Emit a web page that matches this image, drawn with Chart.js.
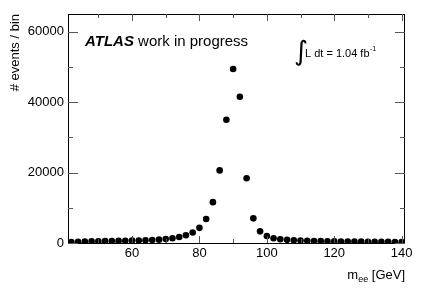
<!DOCTYPE html>
<html>
<head>
<meta charset="utf-8">
<script src="https://cdn.jsdelivr.net/npm/chart.js@4/dist/chart.umd.min.js"></script>
<style>
  html, body { margin: 0; padding: 0; background: #fff; }
  #wrap { width: 427px; height: 290px; }
</style>
</head>
<body>
<div id="wrap"><canvas id="c" width="427" height="290"></canvas></div>
<script>
// ---- data ----
const massBins = [42,44,46,48,50,52,54,56,58,60,62,64,66,68,70,72,74,76,78,80,82,84,86,88,90,92,94,96,98,100,102,104,106,108,110,112,114,116,118,120,122,124,126,128,130,132,134,136,138,140];
const eventCounts = [300,350,400,450,500,520,560,600,640,680,720,780,850,950,1100,1350,1700,2200,3000,4300,6800,11600,20600,35000,49400,41500,18400,7000,3300,2000,1350,1050,900,780,700,620,570,530,500,470,440,420,400,380,360,340,330,320,300,290];
const xMajorTicks = [60,80,100,120,140];
const xMinorTicks = [50,70,90,110,130];
const yMajorTicks = [0,20000,40000,60000];
const yMinorTicks = [10000,30000,50000];

const FONT = "'Liberation Sans', Arial, Helvetica, sans-serif";

const framePlugin = {
  id: 'frame',
  afterDraw(chart) {
    const {ctx, chartArea: a, scales: {x, y}} = chart;
    ctx.save();
    ctx.strokeStyle = '#000';
    ctx.lineWidth = 1;
    ctx.strokeRect(Math.round(a.left) + 0.5, Math.round(a.top) + 0.5,
                   Math.round(a.right - a.left) - 1, Math.round(a.bottom - a.top));
    ctx.strokeStyle = '#555';
    const tick = (x1, y1, x2, y2) => { ctx.beginPath(); ctx.moveTo(x1, y1); ctx.lineTo(x2, y2); ctx.stroke(); };
    xMajorTicks.forEach(v => { const px = Math.round(x.getPixelForValue(v)) + 0.5;
      tick(px, a.bottom, px, a.bottom - 7); tick(px, a.top, px, a.top + 7); });
    xMinorTicks.forEach(v => { const px = Math.round(x.getPixelForValue(v)) + 0.5;
      tick(px, a.bottom, px, a.bottom - 4); tick(px, a.top, px, a.top + 4); });
    yMajorTicks.forEach(v => { const py = Math.round(y.getPixelForValue(v)) + 0.5;
      tick(a.left, py, a.left + 10, py); tick(a.right, py, a.right - 10, py); });
    yMinorTicks.forEach(v => { const py = Math.round(y.getPixelForValue(v)) + 0.5;
      tick(a.left, py, a.left + 5, py); tick(a.right, py, a.right - 5, py); });

    // ATLAS label
    ctx.fillStyle = '#000';
    ctx.textBaseline = 'alphabetic';
    ctx.textAlign = 'left';
    ctx.font = "italic bold 15px " + FONT;
    ctx.fillText('ATLAS', 85, 46);
    const w = ctx.measureText('ATLAS ').width;
    ctx.font = "15px " + FONT;
    ctx.fillText('work in progress', 85 + w, 46);

    // luminosity
    ctx.font = "27px 'DejaVu Sans', sans-serif";
    ctx.fillText('\u222B', 294, 60);
    ctx.font = "11px " + FONT;
    const lum = 'L dt = 1.04 fb';
    ctx.fillText(lum, 305, 57);
    const lw = ctx.measureText(lum).width;
    ctx.font = "7px " + FONT;
    ctx.fillText('-1', 305 + lw + 0.5, 51);

    // x title with subscript
    ctx.font = "13px " + FONT;
    const t2 = ' [GeV]';
    const w2 = ctx.measureText(t2).width;
    ctx.font = "9px " + FONT;
    const wsub = ctx.measureText('ee').width;
    ctx.font = "13px " + FONT;
    const wm = ctx.measureText('m').width;
    const right = 405;
    let xs = right - w2 - wsub - wm;
    ctx.fillText('m', xs, 279);
    ctx.font = "9px " + FONT;
    ctx.fillText('ee', xs + wm, 282);
    ctx.font = "13px " + FONT;
    ctx.fillText(t2, xs + wm + wsub, 279);
    ctx.restore();
  }
};

new Chart(document.getElementById('c'), {
  type: 'scatter',
  data: {
    datasets: [{
      data: massBins.map((m, i) => ({x: m, y: eventCounts[i]})),
      pointRadius: 3.3,
      pointBackgroundColor: '#000',
      pointBorderColor: '#000',
      pointBorderWidth: 0,
      showLine: false
    }]
  },
  options: {
    responsive: false,
    animation: false,
    layout: { padding: { top: 14, right: 22, left: 0, bottom: 0 } },
    plugins: { legend: { display: false }, tooltip: { enabled: false } },
    scales: {
      x: {
        type: 'linear', min: 41, max: 141,
        grid: { display: false, drawTicks: false },
        border: { display: false },
        afterBuildTicks: s => { s.ticks = xMajorTicks.map(v => ({value: v})); },
        afterFit: s => { s.height = 47; },
        ticks: { color: '#000', padding: 3, maxRotation: 0, font: { family: FONT, size: 13 },
                 callback: v => String(v) }
      },
      y: {
        type: 'linear', min: 0, max: 65000,
        grid: { display: false, drawTicks: false },
        border: { display: false },
        afterBuildTicks: s => { s.ticks = yMajorTicks.map(v => ({value: v})); },
        afterFit: s => { s.width = 68; },
        ticks: { color: '#000', padding: 4, font: { family: FONT, size: 13 },
                 callback: v => String(v) },
        title: { display: true, text: '# events / bin', align: 'end', color: '#000',
                 padding: { top: 8, bottom: 0 }, font: { family: FONT, size: 13 } }
      }
    }
  },
  plugins: [framePlugin]
});
</script>
</body>
</html>
